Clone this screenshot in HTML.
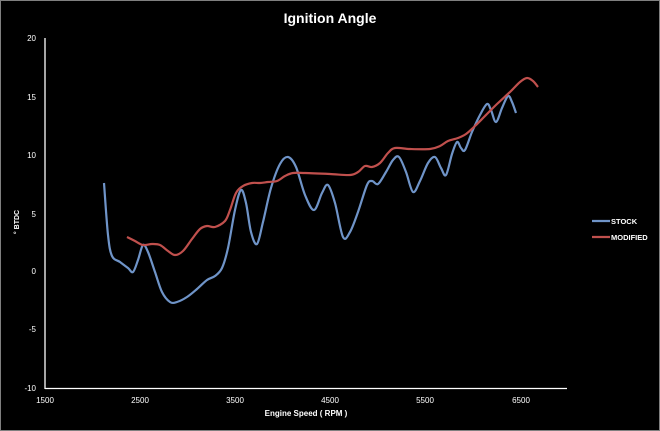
<!DOCTYPE html>
<html><head><meta charset="utf-8"><style>
html,body{margin:0;padding:0;background:#000;}
svg{display:block;font-family:"Liberation Sans",sans-serif;}
</style></head><body>
<svg id="s" width="660" height="431" viewBox="0 0 660 431">
<rect x="0.5" y="0.5" width="659" height="430" fill="#000" stroke="#7f7f7f"/>
<text x="330" y="23" fill="#fff" font-size="14" font-weight="bold" text-anchor="middle">Ignition Angle</text>
<line x1="45" y1="38" x2="45" y2="389" stroke="#fff" stroke-width="1.3"/>
<line x1="45" y1="388.5" x2="567" y2="388.5" stroke="#fff" stroke-width="1.3"/>
<g fill="#fff" font-size="8" text-anchor="end">
<text x="36" y="41">20</text><text x="36" y="100">15</text><text x="36" y="158">10</text>
<text x="36" y="217">5</text><text x="36" y="274">0</text><text x="36" y="332">-5</text><text x="36" y="391">-10</text>
</g>
<g fill="#fff" font-size="8" text-anchor="middle">
<text x="45" y="403">1500</text><text x="140" y="403">2500</text><text x="235" y="403">3500</text>
<text x="330" y="403">4500</text><text x="425" y="403">5500</text><text x="521" y="403">6500</text>
</g>
<text x="306" y="416" fill="#fff" font-size="8" font-weight="bold" text-anchor="middle">Engine Speed ( RPM )</text>
<text transform="translate(19,222) rotate(-90)" fill="#fff" font-size="7" font-weight="bold" text-anchor="middle">° BTDC</text>
<path id="st" fill="none" stroke="#6f94c8" stroke-width="2.2"/>
<path id="md" fill="none" stroke="#c0504d" stroke-width="2.2"/>
<line x1="592" y1="221" x2="610" y2="221" stroke="#6f94c8" stroke-width="2.2"/>
<line x1="592" y1="237" x2="610" y2="237" stroke="#c0504d" stroke-width="2.2"/>
<g fill="#fff" font-size="7.5" font-weight="bold"><text x="611" y="224">STOCK</text><text x="611" y="240">MODIFIED</text></g>
</svg>
<script>
function cr(p){var d="M"+p[0][0]+","+p[0][1];for(var i=0;i<p.length-1;i++){var a=p[i-1]||p[i],b=p[i],c=p[i+1],e=p[i+2]||c;
d+=" C"+(b[0]+(c[0]-a[0])/6)+","+(b[1]+(c[1]-a[1])/6)+" "+(c[0]-(e[0]-b[0])/6)+","+(c[1]-(e[1]-b[1])/6)+" "+c[0]+","+c[1];}return d;}
var st=[[104,183],[108,235],[112,256],[120,262],[128,268],[133,272],[138,260],[143,245],[148,252],[155,272],[162,292],[170,302],[177,302],[187,297],[197,289],[207,280],[215,276],[222,268],[228,248],[235,210],[241,190],[246,203],[251,232],[257,244],[263,222],[271,188],[280,164],[288,157],[296,167],[305,195],[314,210],[322,193],[328,185],[335,203],[343,237],[350,232],[358,212],[367,185],[372,181],[378,184],[386,172],[393,160],[399,157],[406,172],[413,192],[420,181],[428,163],[435,157],[441,168],[446,175],[452,154],[457,142],[461,148],[465,150],[472,132],[480,115],[487,104],[491,110],[496,122],[502,108],[508,96],[512,102],[516,113]];
var md=[[127,237],[135,241],[143,245],[152,244],[160,245],[168,251],[175,255],[183,251],[192,239],[200,229],[207,226],[215,227],[225,221],[230,210],[236,193],[243,186],[252,183],[260,183],[268,182],[277,181],[285,176],[293,173],[305,173],[330,174],[350,175],[358,172],[365,166],[372,167],[380,163],[388,153],[395,148],[410,149],[430,149],[440,146],[448,141],[458,138],[466,134],[475,126],[485,116],[497,104],[510,92],[520,82],[527,78],[533,81],[538,87]];
document.getElementById("st").setAttribute("d",cr(st));
document.getElementById("md").setAttribute("d",cr(md));
</script>
</body></html>
